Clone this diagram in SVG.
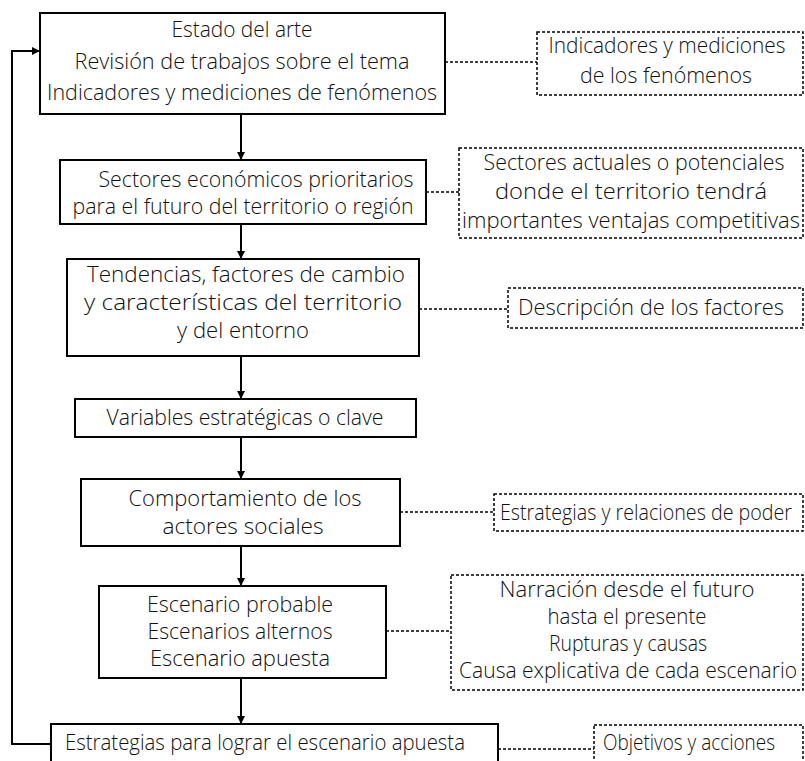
<svg xmlns="http://www.w3.org/2000/svg" width="805" height="761" viewBox="0 0 805 761">
  <style>
    .box { fill: #fff; stroke: #000; stroke-width: 2; }
    .note { fill: #fff; stroke: #000; stroke-width: 1.5; stroke-dasharray: 3 2; }
    .flow { fill: none; stroke: #000; stroke-width: 2; }
    .link { fill: none; stroke: #000; stroke-width: 1.5; stroke-dasharray: 3 2; }
    text { font-family: "Open Sans", "Liberation Sans", sans-serif; font-weight: 300; font-size: 22.5px; fill: #111; text-anchor: middle; }
  </style>
  <defs>
    <marker id="arrow" viewBox="0 0 10 10" refX="10" refY="5" markerWidth="4" markerHeight="4" orient="auto" markerUnits="strokeWidth">
      <path d="M0,0 L10,5 L0,10 z" fill="#000"/>
    </marker>
  </defs>
  <rect width="805" height="761" fill="#fff"/>

  <g id="connectors">
    <path class="flow" d="M241,114 V160" marker-end="url(#arrow)"/>
    <path class="flow" d="M241,224 V259" marker-end="url(#arrow)"/>
    <path class="flow" d="M241,356 V399" marker-end="url(#arrow)"/>
    <path class="flow" d="M241,437 V479" marker-end="url(#arrow)"/>
    <path class="flow" d="M241,546 V586" marker-end="url(#arrow)"/>
    <path class="flow" d="M241,678 V724" marker-end="url(#arrow)"/>
    <path class="flow" d="M51,744 H12 V51 H40" marker-end="url(#arrow)"/>
    <path class="link" d="M445,62 H537"/>
    <path class="link" d="M426,192 H459"/>
    <path class="link" d="M419,309 H508"/>
    <path class="link" d="M400,512 H494"/>
    <path class="link" d="M386,631 H451"/>
    <path class="link" d="M498,749 H594"/>
  </g>

  <g id="estado-arte">
    <rect class="box" x="40" y="13" width="405" height="101"/>
    <text x="242" y="37" textLength="141" lengthAdjust="spacingAndGlyphs">Estado del arte</text>
    <text x="242" y="69" textLength="335" lengthAdjust="spacingAndGlyphs">Revisión de trabajos sobre el tema</text>
    <text x="242" y="100" textLength="390" lengthAdjust="spacingAndGlyphs">Indicadores y mediciones de fenómenos</text>
  </g>

  <g id="sectores">
    <rect class="box" x="60" y="160" width="366" height="64"/>
    <text x="256" y="187" textLength="315" lengthAdjust="spacingAndGlyphs">Sectores económicos prioritarios</text>
    <text x="243" y="214" textLength="341" lengthAdjust="spacingAndGlyphs">para el futuro del territorio o región</text>
  </g>

  <g id="tendencias">
    <rect class="box" x="67" y="259" width="352" height="97"/>
    <text x="246" y="282" textLength="318" lengthAdjust="spacingAndGlyphs">Tendencias, factores de cambio</text>
    <text x="243" y="310" textLength="318" lengthAdjust="spacingAndGlyphs">y características del territorio</text>
    <text x="243" y="338" textLength="132" lengthAdjust="spacingAndGlyphs">y del entorno</text>
  </g>

  <g id="variables">
    <rect class="box" x="75" y="399" width="341" height="38"/>
    <text x="245" y="425" textLength="277" lengthAdjust="spacingAndGlyphs">Variables estratégicas o clave</text>
  </g>

  <g id="actores">
    <rect class="box" x="81" y="479" width="319" height="67"/>
    <text x="245" y="506" textLength="233" lengthAdjust="spacingAndGlyphs">Comportamiento de los</text>
    <text x="243" y="534" textLength="161" lengthAdjust="spacingAndGlyphs">actores sociales</text>
  </g>

  <g id="escenarios">
    <rect class="box" x="99" y="586" width="287" height="92"/>
    <text x="240" y="612" textLength="186" lengthAdjust="spacingAndGlyphs">Escenario probable</text>
    <text x="240" y="639" textLength="185" lengthAdjust="spacingAndGlyphs">Escenarios alternos</text>
    <text x="240" y="666" textLength="180" lengthAdjust="spacingAndGlyphs">Escenario apuesta</text>
  </g>

  <g id="estrategias">
    <rect class="box" x="51" y="724" width="447" height="44"/>
    <text x="265" y="750" textLength="400" lengthAdjust="spacingAndGlyphs">Estrategias para lograr el escenario apuesta</text>
  </g>

  <g id="nota-indicadores">
    <rect class="note" x="537" y="32" width="266" height="63"/>
    <text x="667" y="53" textLength="237" lengthAdjust="spacingAndGlyphs">Indicadores y mediciones</text>
    <text x="666" y="83" textLength="172" lengthAdjust="spacingAndGlyphs">de los fenómenos</text>
  </g>

  <g id="nota-sectores">
    <rect class="note" x="459" y="148" width="344" height="90"/>
    <text x="634" y="170" textLength="301" lengthAdjust="spacingAndGlyphs">Sectores actuales o potenciales</text>
    <text x="631" y="199" textLength="272" lengthAdjust="spacingAndGlyphs">donde el territorio tendrá</text>
    <text x="631" y="228" textLength="338" lengthAdjust="spacingAndGlyphs">importantes ventajas competitivas</text>
  </g>

  <g id="nota-factores">
    <rect class="note" x="508" y="288" width="295" height="40"/>
    <text x="651" y="315" textLength="266" lengthAdjust="spacingAndGlyphs">Descripción de los factores</text>
  </g>

  <g id="nota-poder">
    <rect class="note" x="494" y="494" width="309" height="37"/>
    <text x="646" y="520" textLength="292" lengthAdjust="spacingAndGlyphs">Estrategias y relaciones de poder</text>
  </g>

  <g id="nota-narracion">
    <rect class="note" x="451" y="575" width="352" height="115"/>
    <text x="627" y="597" textLength="255" lengthAdjust="spacingAndGlyphs">Narración desde el futuro</text>
    <text x="627" y="624" textLength="159" lengthAdjust="spacingAndGlyphs">hasta el presente</text>
    <text x="628" y="651" textLength="158" lengthAdjust="spacingAndGlyphs">Rupturas y causas</text>
    <text x="628" y="678" textLength="338" lengthAdjust="spacingAndGlyphs">Causa explicativa de cada escenario</text>
  </g>

  <g id="nota-objetivos">
    <rect class="note" x="594" y="725" width="209" height="43"/>
    <text x="689" y="750" textLength="172" lengthAdjust="spacingAndGlyphs">Objetivos y acciones</text>
  </g>
</svg>
